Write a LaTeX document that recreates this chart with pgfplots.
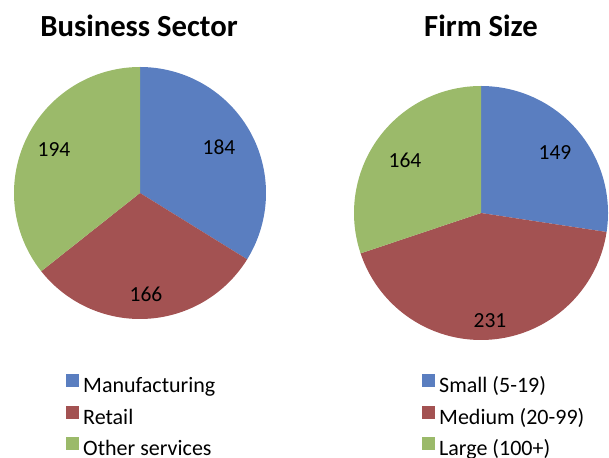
\documentclass[border=0pt]{standalone}
\usepackage{pgfplots}
\pgfplotsset{compat=1.18}
\usepackage{fontspec}
\setmainfont{Carlito}

\definecolor{pieblue}{HTML}{5A7EC0}
\definecolor{piered}{HTML}{A35252}
\definecolor{piegreen}{HTML}{9BBA6A}

% counts per category
\def\secA{184}\def\secB{166}\def\secC{194}
\def\sizA{149}\def\sizB{231}\def\sizC{164}

% slices start at 12 o'clock and run clockwise
\pgfmathsetmacro\secSum{\secA+\secB+\secC}
\pgfmathsetmacro\secAngA{90-360*(\secA/\secSum)}
\pgfmathsetmacro\secAngB{\secAngA-360*(\secB/\secSum)}
\pgfmathsetmacro\sizSum{\sizA+\sizB+\sizC}
\pgfmathsetmacro\sizAngA{90-360*(\sizA/\sizSum)}
\pgfmathsetmacro\sizAngB{\sizAngA-360*(\sizB/\sizSum)}

% slice: centre x, centre y, radius, low angle, high angle, colour
\newcommand\slice[6]{%
  \addplot[draw=none, fill=#6, domain=#4:#5, samples=90]
    ({#1+#3*cos(x)}, {#2+#3*sin(x)}) -- (axis cs:#1,#2) -- cycle;}

\newcommand\lab{\fontsize{21.5bp}{26bp}\selectfont}
\newcommand\leg{\fontsize{22bp}{26bp}\selectfont}
\newcommand\ttl{\fontsize{30.7bp}{36bp}\selectfont\bfseries}

\pgfplotsset{
  canvas/.style={
    width=609bp, height=458bp, scale only axis,
    xmin=0, xmax=609, ymin=0, ymax=458,
    hide axis, clip=false,
    legend cell align=left,
    legend style={draw=none, fill=none, font=\leg, anchor=north west,
      inner sep=0pt, row sep=9bp,
      nodes={inner sep=0pt, text height=15bp, text depth=4bp},
      /tikz/every odd column/.append style={column sep=4bp}},
  },
  legend image code/.code={\path[#1] (0bp,0bp) rectangle (13bp,13bp);},
}

\begin{document}
\begin{tikzpicture}
\path[use as bounding box] (0,0) rectangle (609bp,458bp);
% Business Sector
\begin{axis}[canvas, legend style={at={(axis cs:66,84)}}]
\slice{140}{265}{126}{\secAngA}{90}{pieblue}
\slice{140}{265}{126}{\secAngB}{\secAngA}{piered}
\slice{140}{265}{126}{-270}{\secAngB}{piegreen}
\legend{Manufacturing, Retail, Other services}
\node[anchor=base, font=\ttl] at (axis cs:139,421) {Business Sector};
\node[anchor=base, font=\lab] at (axis cs:219,303) {184};
\node[anchor=base, font=\lab] at (axis cs:146,156) {166};
\node[anchor=base, font=\lab] at (axis cs:54,301) {194};
\end{axis}
% Firm Size
\begin{axis}[canvas, legend style={at={(axis cs:422,84)}}]
\slice{481}{245}{127}{\sizAngA}{90}{pieblue}
\slice{481}{245}{127}{\sizAngB}{\sizAngA}{piered}
\slice{481}{245}{127}{-270}{\sizAngB}{piegreen}
\legend{Small (5-19), Medium (20-99), Large (100+)}
\node[anchor=base, font=\ttl] at (axis cs:481,421) {Firm Size};
\node[anchor=base, font=\lab] at (axis cs:555,298) {149};
\node[anchor=base, font=\lab] at (axis cs:490,130) {231};
\node[anchor=base, font=\lab] at (axis cs:405,290) {164};
\end{axis}
\end{tikzpicture}
\end{document}
